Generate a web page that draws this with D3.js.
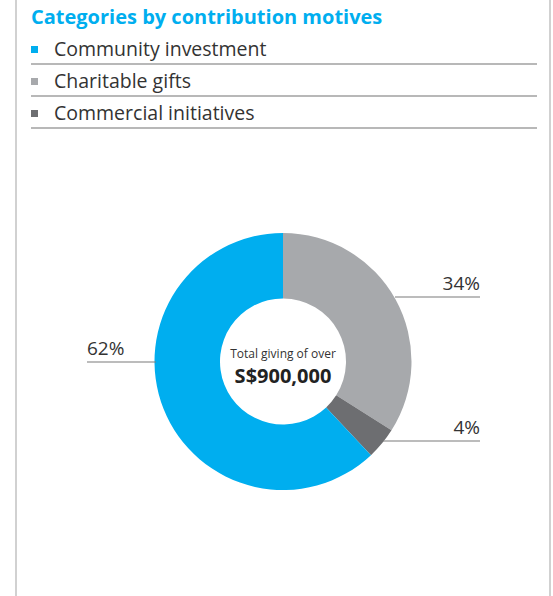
<!DOCTYPE html>
<html>
<head>
<meta charset="utf-8">
<script src="https://cdn.jsdelivr.net/npm/d3@7"></script>
<style>
  html, body { margin: 0; padding: 0; background: #fff; }
  svg { display: block; font-family: "Open Sans", "Noto Sans", sans-serif; }
</style>
</head>
<body>
<svg id="chart" width="553" height="596"></svg>
<script>
const categories = ["Community investment", "Charitable gifts", "Commercial initiatives"];
const shares = [62, 34, 4];
const colors = ["#00aeef", "#a7a9ac", "#6d6e71"];
// drawing order around the ring, clockwise from 12 o'clock
const ringOrder = ["Charitable gifts", "Commercial initiatives", "Community investment"];
const title = "Categories by contribution motives";
const centerCaption = "Total giving of over";
const centerTotal = "S$900,000";

const svg = d3.select("#chart");
const W = 553, H = 596;

// panel borders
svg.append("line").attr("x1", 16).attr("x2", 16).attr("y1", 0).attr("y2", H)
  .attr("stroke", "#b3b3b3").attr("stroke-width", 1.2);
svg.append("line").attr("x1", 550).attr("x2", 550).attr("y1", 0).attr("y2", H)
  .attr("stroke", "#b3b3b3").attr("stroke-width", 1.2);

// title
svg.append("text").attr("x", 31).attr("y", 24)
  .attr("fill", "#00aeef").attr("font-size", 20).attr("font-weight", 700)
  .text(title);

// legend rows with rules beneath
const legendY = d3.scaleBand().domain(categories).range([32, 128]);
const leg = svg.selectAll("g.leg").data(categories).join("g").attr("class", "leg")
  .attr("transform", d => `translate(0,${legendY(d)})`);
leg.append("rect").attr("x", 31).attr("y", 14).attr("width", 7).attr("height", 7)
  .attr("fill", (d, i) => colors[i]);
leg.append("text").attr("x", 54).attr("y", 24)
  .attr("fill", "#333").attr("font-size", 19.5).attr("font-weight", 400)
  .text(d => d);
leg.append("line").attr("x1", 31).attr("x2", 537)
  .attr("y1", legendY.bandwidth()).attr("y2", legendY.bandwidth())
  .attr("stroke", "#a0a0a0").attr("stroke-width", 1.3);

// donut
const cx = 283, cy = 361.5, rOuter = 128.5, rInner = 63;
const ringData = ringOrder.map(name => {
  const i = categories.indexOf(name);
  return { name, value: shares[i], color: colors[i] };
});
const pie = d3.pie().sort(null).value(d => d.value);
const arc = d3.arc().innerRadius(rInner).outerRadius(rOuter);
const g = svg.append("g").attr("transform", `translate(${cx},${cy})`);
const arcs = pie(ringData);
g.selectAll("path").data(arcs).join("path")
  .attr("d", arc).attr("fill", d => d.data.color);

// leader lines and percentage labels
const labelPos = {
  "Charitable gifts": { y: 297, x1: 395, x2: 480, anchor: "end", tx: 480 },
  "Commercial initiatives": { y: 441, x1: 383, x2: 480, anchor: "end", tx: 480 },
  "Community investment": { y: 362, x1: 87, x2: 156, anchor: "start", tx: 87 }
};
arcs.forEach(a => {
  const p = labelPos[a.data.name];
  svg.append("line").attr("x1", p.x1).attr("x2", p.x2).attr("y1", p.y).attr("y2", p.y)
    .attr("stroke", "#7a7a7a").attr("stroke-width", 1.2);
  svg.append("text").attr("x", p.tx).attr("y", p.y - 7)
    .attr("text-anchor", p.anchor).attr("fill", "#333")
    .attr("font-size", 19).attr("font-weight", 400)
    .text(a.data.value + "%");
});

// centre caption
g.append("text").attr("y", -4).attr("text-anchor", "middle")
  .attr("fill", "#333").attr("font-size", 12).text(centerCaption);
g.append("text").attr("y", 21).attr("text-anchor", "middle")
  .attr("fill", "#222").attr("font-size", 20).attr("font-weight", 700).text(centerTotal);
</script>
</body>
</html>
